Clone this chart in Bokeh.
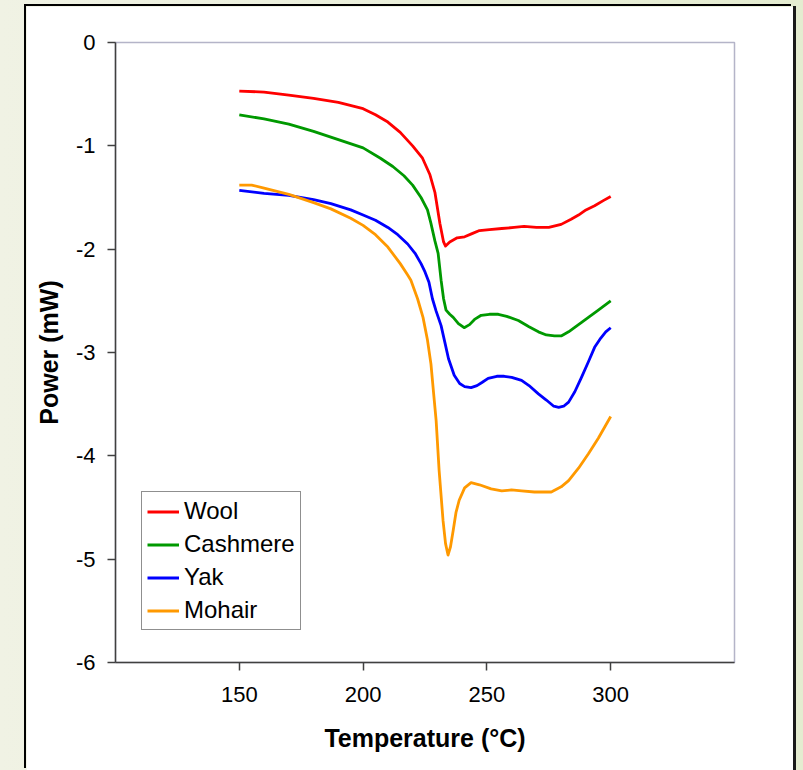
from bokeh.plotting import figure
from bokeh.models import FixedTicker, Range1d, Legend, LegendItem
from bokeh.embed import file_html
from bokeh.resources import INLINE

# ---- data ----
wool_t = [150, 160, 170, 180, 190, 200, 205, 210, 215, 220, 224, 227, 229, 231, 232.5, 233.3,
          235, 238, 241, 244, 247, 251, 256, 261, 265, 270, 275, 280, 284, 287, 290, 293.5, 297, 300]
wool_p = [-0.47, -0.48, -0.51, -0.54, -0.58, -0.64, -0.70, -0.77, -0.87, -1.00, -1.12, -1.28, -1.45,
          -1.75, -1.93, -1.97, -1.93, -1.89, -1.88, -1.85, -1.82, -1.81, -1.80, -1.79, -1.78, -1.79,
          -1.79, -1.76, -1.71, -1.67, -1.62, -1.58, -1.53, -1.49]

cash_t = [150, 160, 170, 180, 190, 200, 207, 212, 216.5, 220, 223.4, 226, 227.4, 229, 230.3, 231.5,
          232.5, 233.5, 235, 236.4, 238.5, 240.8, 243, 245, 247.7, 251, 254.6, 258, 262.7, 267,
          270.8, 274, 277.3, 280, 283, 287, 291, 295, 300]
cash_p = [-0.70, -0.74, -0.79, -0.86, -0.94, -1.02, -1.12, -1.20, -1.29, -1.38, -1.50, -1.62, -1.75,
          -1.92, -2.04, -2.30, -2.48, -2.59, -2.63, -2.66, -2.72, -2.76, -2.73, -2.68, -2.64, -2.63,
          -2.63, -2.65, -2.69, -2.75, -2.80, -2.83, -2.84, -2.84, -2.80, -2.73, -2.66, -2.59, -2.50]

yak_t = [150, 160, 170, 180, 187, 195, 200, 205, 210, 214, 218, 221, 223.4, 225, 226.6, 228, 229.5,
         231.5, 233, 234.5, 236.8, 239, 241, 243.6, 246, 248, 250.5, 254, 257, 260, 264, 267, 270.8,
         274, 277, 279, 281, 283, 285.5, 288.2, 291, 293.5, 296, 298, 300]
yak_p = [-1.43, -1.46, -1.48, -1.52, -1.56, -1.62, -1.67, -1.72, -1.79, -1.86, -1.95, -2.04, -2.14,
         -2.22, -2.32, -2.48, -2.60, -2.74, -2.90, -3.06, -3.22, -3.30, -3.33, -3.34, -3.32, -3.29,
         -3.25, -3.23, -3.23, -3.24, -3.27, -3.32, -3.40, -3.46, -3.52, -3.53, -3.52, -3.48, -3.38,
         -3.24, -3.09, -2.95, -2.86, -2.80, -2.76]

mohair_t = [150, 155, 160, 170, 180, 187, 195, 200, 205, 210, 215, 218, 219.3, 222, 224.2, 226, 227.4,
            228.5, 229.5, 230.7, 232.3, 233.3, 234.3, 235.3, 236.4, 237.5, 238.8, 241, 243.6, 247,
            251.7, 256, 259.9, 264, 269.2, 276, 280, 283, 287, 291, 295, 300]
mohair_p = [-1.38, -1.38, -1.41, -1.47, -1.55, -1.61, -1.70, -1.77, -1.86, -1.98, -2.14, -2.25, -2.30,
            -2.48, -2.66, -2.88, -3.11, -3.40, -3.66, -4.14, -4.63, -4.85, -4.96, -4.88, -4.72, -4.55,
            -4.43, -4.31, -4.26, -4.28, -4.32, -4.34, -4.33, -4.34, -4.35, -4.35, -4.30, -4.24, -4.12,
            -3.98, -3.83, -3.62]

series_names = ["Wool", "Cashmere", "Yak", "Mohair"]
series_colors = ["#ff0000", "#009900", "#0000ff", "#ff9900"]

x_ticks = [150, 200, 250, 300]
x_tick_labels = ["150", "200", "250", "300"]
y_ticks = [0, -1, -2, -3, -4, -5, -6]
y_tick_labels = ["0", "-1", "-2", "-3", "-4", "-5", "-6"]

FONT = "Liberation Sans"

# figure = the white panel, placed at (26, 6) on the page
p = figure(frame_width=619, frame_height=620,
           x_range=Range1d(100, 350), y_range=Range1d(-6, 0),
           output_backend="svg", toolbar_location=None,
           min_border_left=89, min_border_right=59, min_border_top=36, min_border_bottom=108)
p.margin = (6, 0, 0, 26)
p.styles = {"box-shadow": "-2px -2px 0 0 #000000, 3px 0 0 0 #1a1a1a"}

p.background_fill_color = "white"
p.border_fill_color = "white"
p.outline_line_color = "#b4b4c8"
p.outline_line_width = 1.5
p.xgrid.visible = False
p.ygrid.visible = False

# axes
p.xaxis.ticker = FixedTicker(ticks=x_ticks)
p.yaxis.ticker = FixedTicker(ticks=y_ticks)
p.xaxis.major_label_overrides = dict(zip(x_ticks, x_tick_labels))
p.yaxis.major_label_overrides = dict(zip(y_ticks, y_tick_labels))
for ax in (p.xaxis, p.yaxis):
    ax.axis_line_color = "#404040"
    ax.axis_line_width = 1.5
    ax.major_tick_line_color = "#404040"
    ax.major_tick_line_width = 1.5
    ax.major_tick_out = 8
    ax.major_tick_in = 0
    ax.minor_tick_line_color = None
    ax.major_label_text_font = FONT
    ax.major_label_text_font_size = "22px"
    ax.major_label_text_color = "black"
    ax.axis_label_text_font = FONT
    ax.axis_label_text_font_size = "25px"
    ax.axis_label_text_font_style = "bold"
    ax.axis_label_text_color = "black"
p.xaxis.axis_label = "Temperature (°C)"
p.yaxis.axis_label = "Power (mW)"
p.xaxis.major_label_standoff = 16
p.yaxis.major_label_standoff = 12
p.xaxis.axis_label_standoff = 19
p.yaxis.axis_label_standoff = 10

# series
all_t = [wool_t, cash_t, yak_t, mohair_t]
all_p = [wool_p, cash_p, yak_p, mohair_p]
items = []
for name, color, t, pw in zip(series_names, series_colors, all_t, all_p):
    r = p.line(t, pw, line_color=color, line_width=2.8, line_join="round")
    items.append(LegendItem(label=name, renderers=[r]))

legend = Legend(items=items, location=(26, 32))
legend.label_text_font = FONT
legend.label_text_font_size = "24px"
legend.label_text_color = "black"
legend.border_line_color = "#202020"
legend.border_line_width = 1.2
legend.background_fill_color = "white"
legend.background_fill_alpha = 1
legend.glyph_width = 32
legend.glyph_height = 25
legend.label_height = 25
legend.label_standoff = 5
legend.spacing = 5
legend.padding = 5
legend.margin = 0
p.add_layout(legend, "center")

html = file_html(p, INLINE)
html = html.replace("</head>",
                    "<style>html,body{background:linear-gradient(90deg,#f0f2e4,#e4ecd0);}</style></head>", 1)
open("out.html", "w").write(html)
